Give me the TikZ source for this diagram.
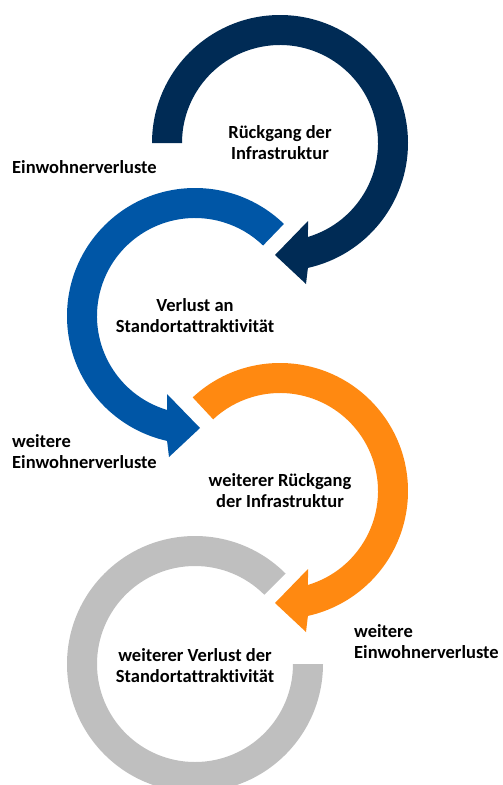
\documentclass[tikz,border=0pt]{standalone}
\usepackage{fontspec}
\setmainfont[Ligatures=NoCommon]{Carlito}
\definecolor{navyring}{RGB}{0,43,85}
\definecolor{bluering}{RGB}{0,86,166}
\definecolor{orangering}{RGB}{255,137,17}
\definecolor{grayring}{RGB}{191,191,191}
\tikzset{
    cycletext/.style={font=\bfseries\fontsize{18.5}{21}\selectfont, align=center, inner sep=0pt},
    sidetext/.style={cycletext, align=left, anchor=west}
}
\begin{document}
\begin{tikzpicture}[x=1pt,y=1pt]
    \useasboundingbox (0,0) rectangle (503,-785);
    % ring centres
    \coordinate (c1) at (280,-143);
    \coordinate (c2) at (195,-316);
    \coordinate (c3) at (280,-491);
    \coordinate (c4) at (195,-664);
    % circular arrows
    \begin{scope}[shift={(c1)}]
        \fill [navyring] (180:128) arc[start angle=180, end angle=-77.4, radius=128]
            -- (26,-141) -- (-5,-112) -- (28,-78)
            -- (-73.4:98) arc[start angle=-73.4, end angle=180, radius=98] -- cycle;
    \end{scope}
    \begin{scope}[shift={(c2)}, xscale=-1]
        \fill [bluering] (134:128) arc[start angle=134, end angle=-77.4, radius=128]
            -- (26,-141) -- (-5,-112) -- (28,-78)
            -- (-73.4:98) arc[start angle=-73.4, end angle=134, radius=98] -- cycle;
    \end{scope}
    \begin{scope}[shift={(c3)}]
        \fill [orangering] (133:128) arc[start angle=133, end angle=-77.4, radius=128]
            -- (26,-141) -- (-5,-112) -- (28,-78)
            -- (-73.4:98) arc[start angle=-73.4, end angle=133, radius=98] -- cycle;
    \end{scope}
    \begin{scope}[shift={(c4)}]
        \fill [grayring] (45:128) arc[start angle=45, end angle=360, radius=128]
            -- (360:98) arc[start angle=360, end angle=45, radius=98] -- cycle;
    \end{scope}
    % texts
    \node [sidetext] (verluste1) at (12,-167) {Einwohnerverluste};
    \node [cycletext] (infra1) at (c1) {Rückgang der\\Infrastruktur};
    \node [cycletext] (standort1) at (c2) {Verlust an\\Standortattraktivität};
    \node [sidetext] (verluste2) at (12,-452) {weitere\\Einwohnerverluste};
    \node [cycletext] (infra2) at (c3) {weiterer Rückgang\\der Infrastruktur};
    \node [sidetext] (verluste3) at (354,-642) {weitere\\Einwohnerverluste};
    \node [cycletext] (standort2) at ([yshift=-2]c4) {weiterer Verlust der\\Standortattraktivität};
\end{tikzpicture}
\end{document}
